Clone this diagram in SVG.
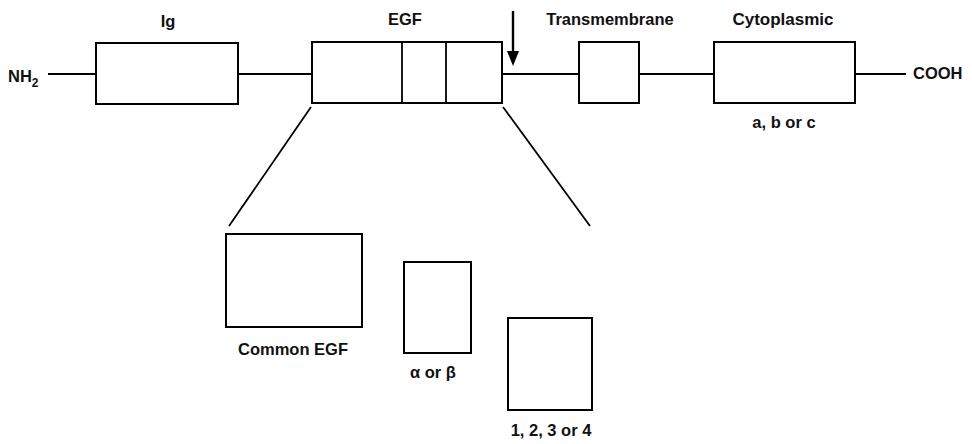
<svg xmlns="http://www.w3.org/2000/svg" width="972" height="444" viewBox="0 0 972 444">
<defs>
<style>
.b{fill:#fff;stroke:#000;stroke-width:2}
.l{stroke:#000;stroke-width:1.8;fill:none}
.t{font-family:"Liberation Sans",Arial,sans-serif;font-size:16.5px;font-weight:bold;fill:#111;text-anchor:middle}
</style>
</defs>
<rect width="972" height="444" fill="#fff"/>
<g id="connectors">
<line class="l" x1="48" y1="74" x2="96" y2="74"/>
<line class="l" x1="238" y1="74" x2="312" y2="74"/>
<line class="l" x1="502" y1="74" x2="579" y2="74"/>
<line class="l" x1="639" y1="74" x2="714" y2="74"/>
<line class="l" x1="855" y1="74" x2="906" y2="74"/>
<line class="l" x1="311" y1="107" x2="229" y2="226"/>
<line class="l" x1="503" y1="107" x2="590" y2="226"/>
<line x1="513" y1="11" x2="513" y2="54" stroke="#000" stroke-width="2.4"/>
<path d="M507,51 L519,51 L513,66 z" fill="#000"/>
</g>
<g id="nh2"><text x="8" y="82" class="t" style="text-anchor:start">NH<tspan font-size="12" dy="5">2</tspan></text></g>
<g id="ig"><rect class="b" x="96" y="43" width="142" height="61"/><text class="t" x="168" y="27">Ig</text></g>
<g id="egf"><rect class="b" x="312" y="42" width="190" height="61"/><line class="l" x1="402" y1="42" x2="402" y2="103"/><line class="l" x1="446" y1="42" x2="446" y2="103"/><text class="t" x="405" y="25">EGF</text></g>
<g id="transmembrane"><rect class="b" x="579" y="42" width="60" height="61"/><text class="t" x="610" y="25">Transmembrane</text></g>
<g id="cytoplasmic"><rect class="b" x="714" y="42" width="141" height="61"/><text class="t" x="783" y="25" style="font-size:17px">Cytoplasmic</text><text class="t" x="784" y="128">a, b or c</text></g>
<g id="cooh"><text x="913" y="79" class="t" style="text-anchor:start">COOH</text></g>
<g id="common-egf"><rect class="b" x="226" y="234" width="136" height="93"/><text class="t" x="293" y="355">Common EGF</text></g>
<g id="alpha-beta"><rect class="b" x="404" y="262" width="67" height="91"/><text class="t" x="433" y="378">α or β</text></g>
<g id="numbered"><rect class="b" x="508" y="318" width="84" height="92"/><text class="t" x="551" y="436">1, 2, 3 or 4</text></g>
</svg>
